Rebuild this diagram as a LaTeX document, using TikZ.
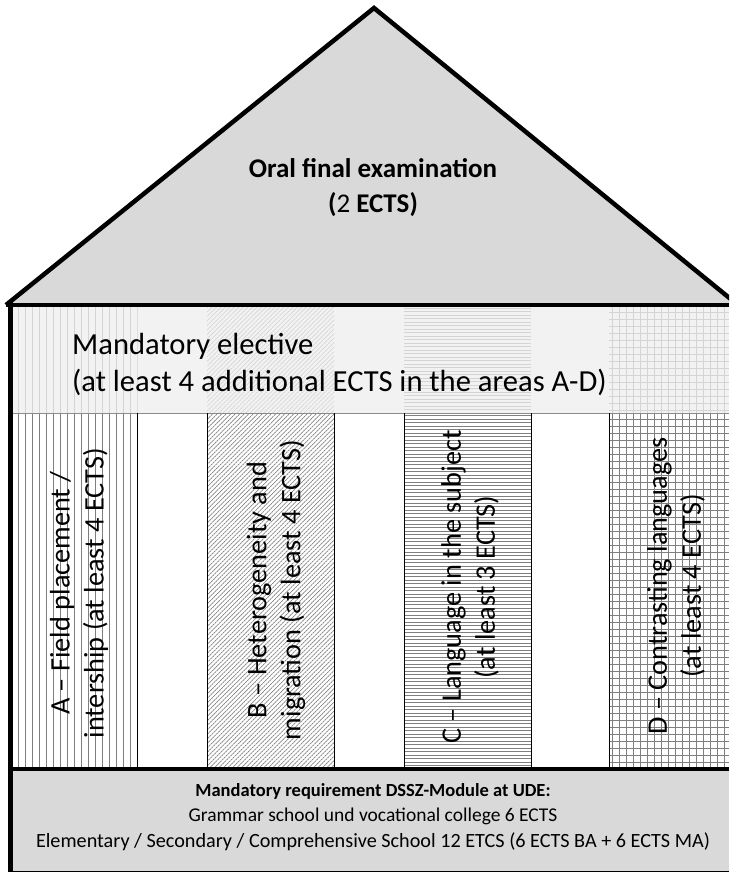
\documentclass[tikz,border=0pt]{standalone}
\usepackage{fontspec}
\setmainfont{Carlito}
\definecolor{roofgray}{HTML}{D9D9D9}
\definecolor{bandgray}{HTML}{F2F2F2}
\definecolor{hatchdark}{HTML}{7F7F7F}
\definecolor{hatchlight}{HTML}{D4D4D4}
\definecolor{bandline}{HTML}{8C8C8C}

% Fill patterns for the four pillars, each clipped to a rectangle
% #1,#2 = top-left corner, #3,#4 = bottom-right corner, #5 = line colour
\newcommand\vhatch[5]{%
  \begin{scope}
    \clip (#1,#2) rectangle (#3,#4);
    \foreach \k in {0,...,20}
      \draw[#5, line width=0.8pt] (#1+6.5+7*\k,#2) -- (#1+6.5+7*\k,#4);
  \end{scope}}
\newcommand\hhatch[5]{%
  \begin{scope}
    \clip (#1,#2) rectangle (#3,#4);
    \foreach \k in {0,...,110}
      \draw[#5, line width=0.7pt] (#1,#2+2+3.5*\k) -- (#3,#2+2+3.5*\k);
  \end{scope}}
\newcommand\ghatch[5]{%
  \begin{scope}
    \clip (#1,#2) rectangle (#3,#4);
    \foreach \k in {0,...,20}
      \draw[#5, line width=0.8pt] (#1+3+7*\k,#2) -- (#1+3+7*\k,#4);
    \foreach \k in {0,...,55}
      \draw[#5, line width=0.8pt] (#1,#2+6+7*\k) -- (#3,#2+6+7*\k);
  \end{scope}}
\newcommand\dhatch[5]{%
  \begin{scope}
    \clip (#1,#2) rectangle (#3,#4);
    \foreach \k in {0,...,140}
      \draw[#5, line width=0.7pt, dash pattern=on 2.2pt off 0.6pt]
        (#1-470+4.5*\k,#4) -- ++(470,-470);
  \end{scope}}

\begin{document}
\begin{tikzpicture}[x=1pt, y=-1pt,
    wall/.style={line width=4.5pt, line cap=rect},
    pillarside/.style={line width=1pt},
    pillartext/.style={rotate=90, inner sep=0pt, align=center, font=\fontsize{28.3}{34}\selectfont},
    rooftext/.style={inner sep=0pt, align=center, font=\fontsize{27}{35}\selectfont},
    bandtext/.style={inner sep=0pt, align=left, anchor=west, font=\fontsize{30.6}{37}\selectfont},
    basetext/.style={inner sep=0pt, align=center, font=\fontsize{19.5}{25.5}\selectfont}]
  \useasboundingbox (0,0) rectangle (729,872);
  \clip (0,0) rectangle (729,872);

  % roof
  \fill[roofgray] (6,305) -- (374,8) -- (738,305) -- cycle;
  \draw[line width=4.5pt, line join=miter] (6,305) -- (374,8) -- (738,305);

  % elective band with faint continuation of the pillar patterns
  \fill[bandgray] (12,306) rectangle (729,413);
  \vhatch{12}{306}{137.5}{413}{hatchlight}
  \dhatch{207}{306}{334}{413}{hatchlight}
  \hhatch{404}{306}{531}{413}{hatchlight}
  \ghatch{609}{306}{729}{413}{hatchlight}
  \draw[bandline, line width=0.9pt] (12,413) -- (729,413);

  % pillars
  \vhatch{12}{413.5}{137.5}{768}{hatchdark}
  \dhatch{207}{413.5}{334}{768}{hatchdark}
  \hhatch{404}{413.5}{531}{768}{hatchdark}
  \ghatch{609}{413.5}{729}{768}{hatchdark}
  \draw[pillarside] (137.5,413) -- (137.5,768);
  \draw[pillarside] (207.3,413) -- (207.3,768);
  \draw[pillarside] (334.3,413) -- (334.3,768);
  \draw[pillarside] (404,413) -- (404,768);
  \draw[pillarside] (531,413) -- (531,768);
  \draw[pillarside] (609,413) -- (609,768);

  % foundation
  \fill[roofgray] (12,769) rectangle (729,871);
  \draw[line width=1pt] (12,871) -- (729,871);
  \draw[line width=4.5pt] (10,769) -- (729,769);

  % roof eaves line and left wall
  \draw[line width=4pt] (6,304.5) -- (729,304.5);
  \draw[wall] (10.5,304) -- (10.5,872);

  % texts
  \node[rooftext] (exam) at (373,188)
    {\textbf{Oral final examination}\\\textbf{(}2 \textbf{ECTS)}};
  \node[bandtext] (elective) at (72,364)
    {Mandatory elective\\(at least 4 additional ECTS in the areas A-D)};
  \node[pillartext] (colA) at (79,593)
    {A – Field placement /\\intership (at least 4 ECTS)};
  \node[pillartext] (colB) at (276,590)
    {B – Heterogeneity and\\migration (at least 4 ECTS)};
  \node[pillartext] (colC) at (470,587)
    {C – Language in the subject\\(at least 3 ECTS)};
  \node[pillartext] (colD) at (676,586)
    {D – Contrasting languages\\(at least 4 ECTS)};
  \node[basetext] (module) at (373,817)
    {{\fontsize{18.5}{25.5}\selectfont\bfseries Mandatory requirement DSSZ-Module at UDE:}\\
     Grammar school und vocational college 6 ECTS\\
     {\fontsize{20.2}{25.5}\selectfont Elementary / Secondary / Comprehensive School 12 ETCS (6 ECTS BA + 6 ECTS MA)}};
\end{tikzpicture}
\end{document}
